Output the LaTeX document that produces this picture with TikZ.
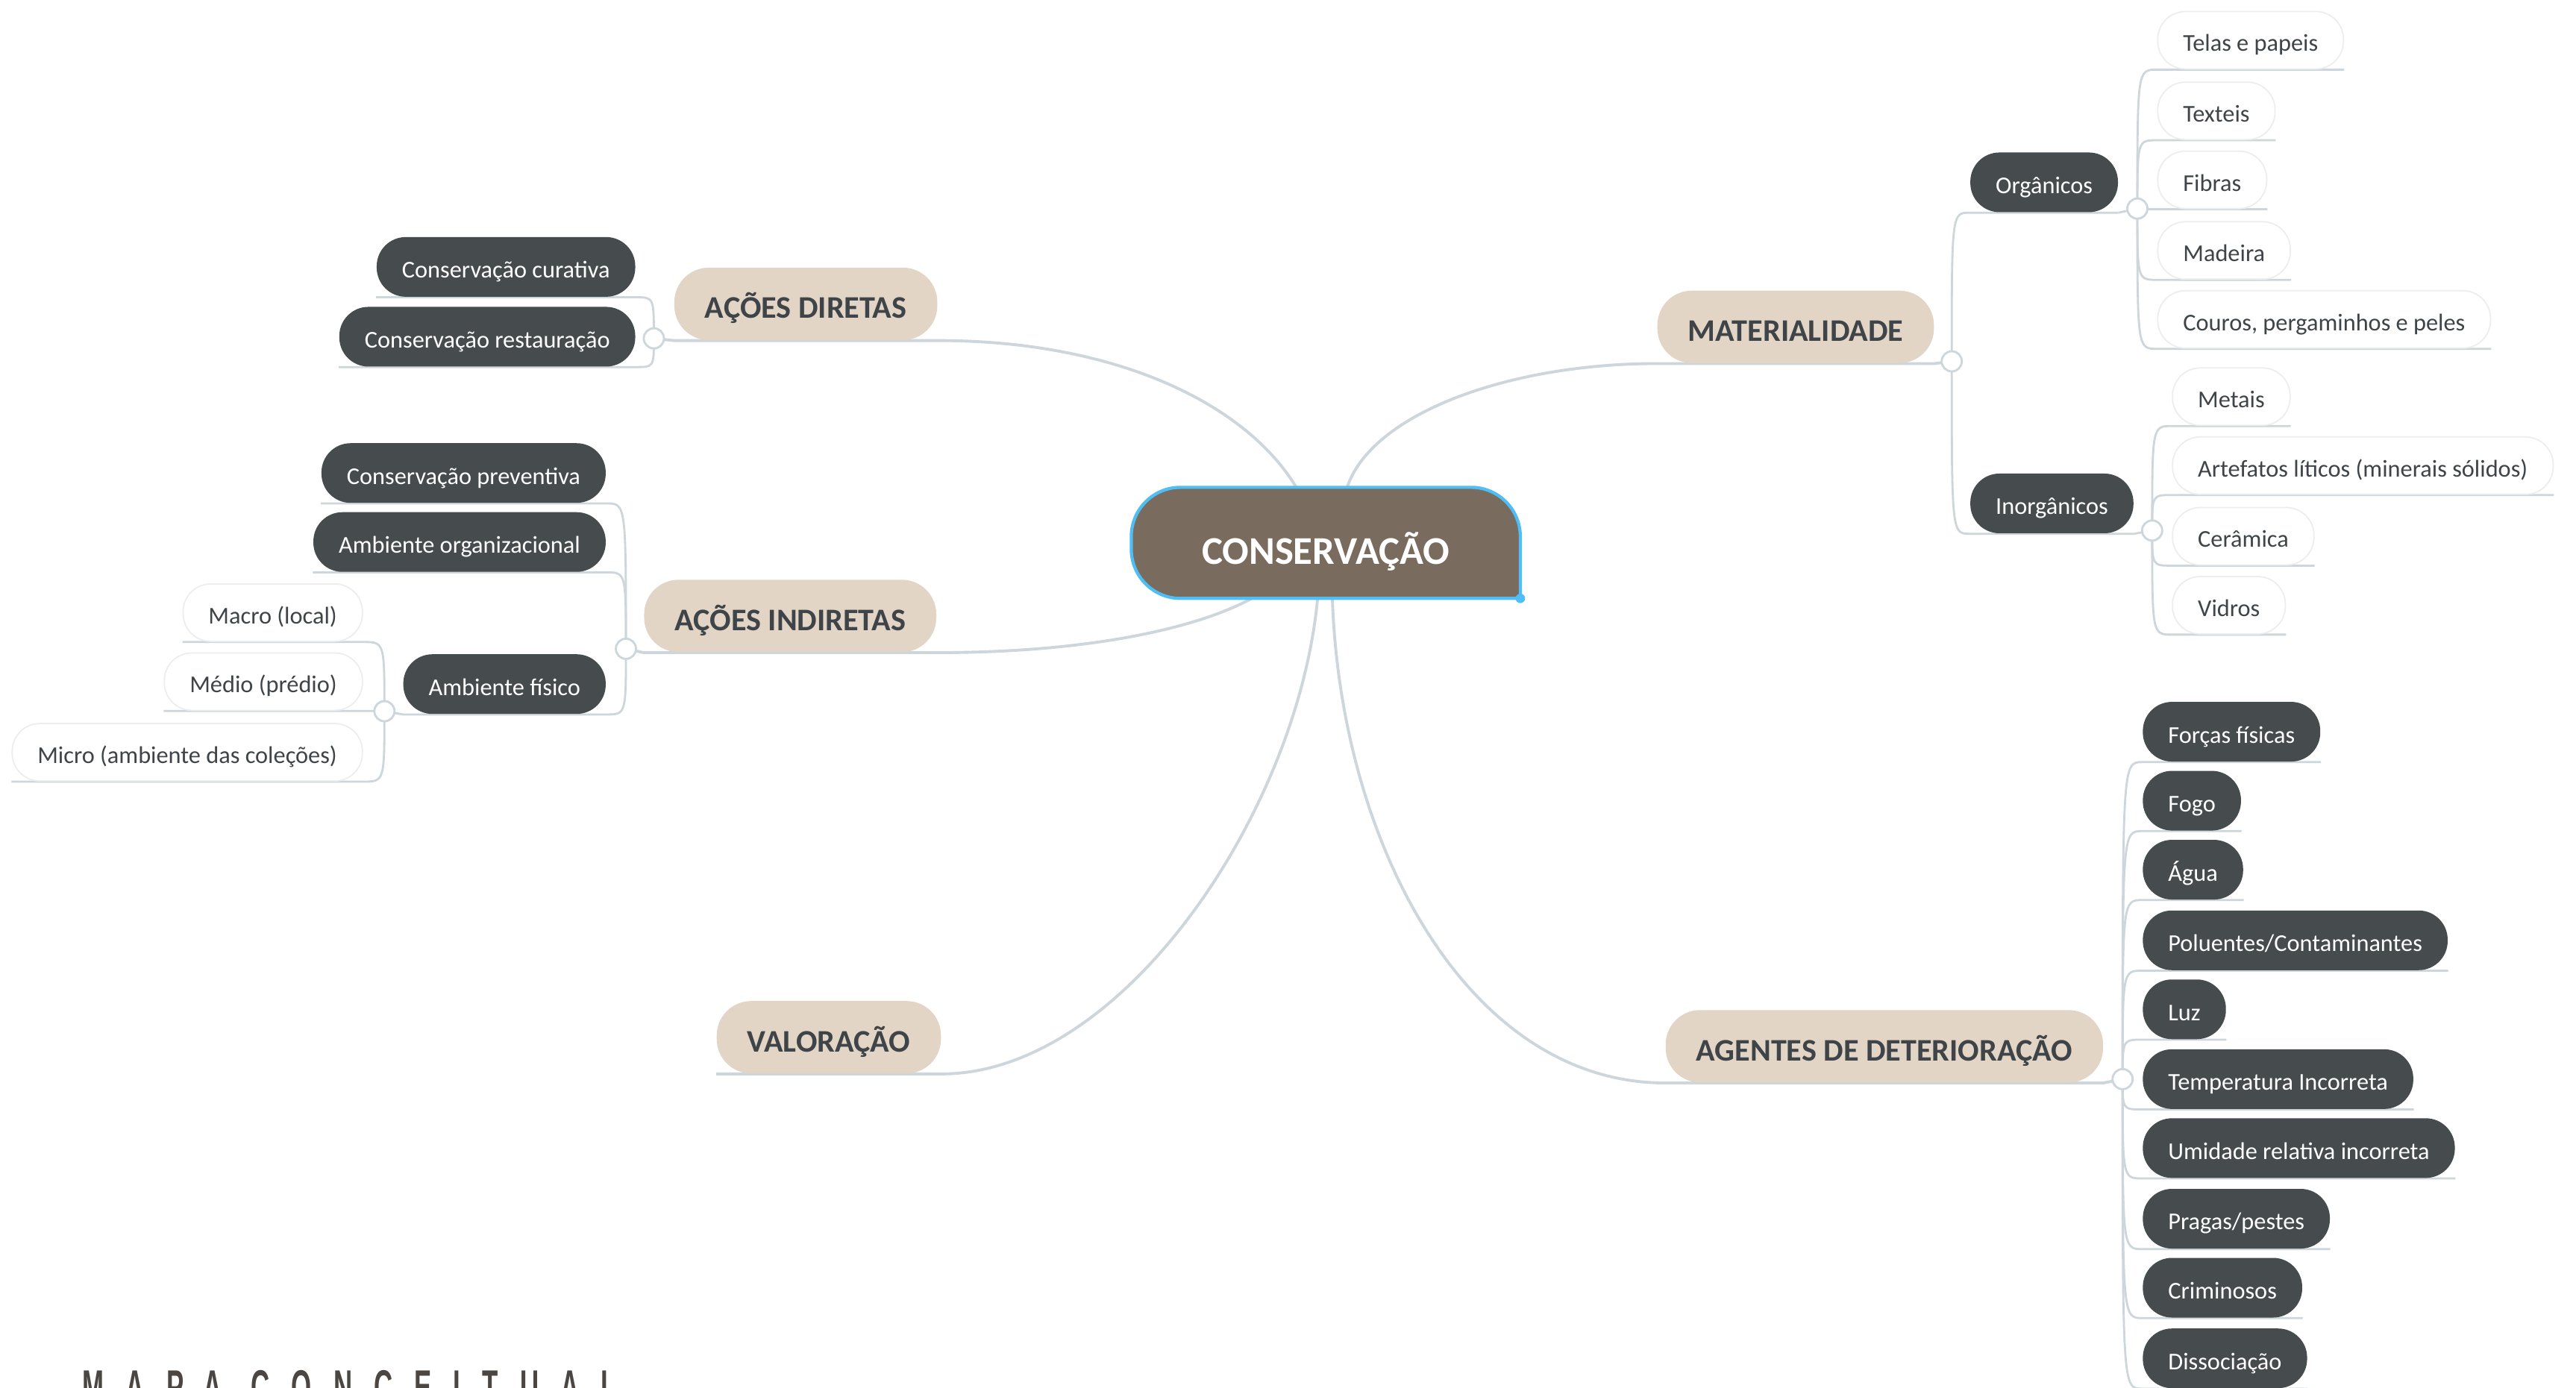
\documentclass[tikz,border=0pt]{standalone}
\usepackage{fontspec}
\setmainfont{Carlito}
\newfontfamily\mapafont{Liberation Sans}[LetterSpace=46,FakeStretch=0.55]
\usetikzlibrary{calc,backgrounds}
\definecolor{linegray}{HTML}{CDD6DA}
\definecolor{consbrown}{HTML}{796B5E}
\definecolor{selblue}{HTML}{4FBEF5}
\definecolor{topicbeige}{HTML}{E3D5C6}
\definecolor{subdark}{HTML}{464B4E}
\definecolor{textgray}{HTML}{3E4447}
\definecolor{leafborder}{HTML}{EDEDED}
\definecolor{mapagray}{HTML}{4B4641}
\newcommand\subfont{\fontsize{9.2}{11}\selectfont}
\newcommand\topicfont{\fontsize{12}{14}\selectfont\bfseries}
\newcommand\centralfont{\fontsize{15}{18}\selectfont\bfseries}
\def\twigR(#1)(#2){\draw[subline] (#1.center) .. controls (#1.center |- #2.south west) .. (#2.south west) -- (#2.south east);}
\def\twigL(#1)(#2){\draw[subline] (#1.center) .. controls (#1.center |- #2.south east) .. (#2.south east) -- (#2.south west);}
\tikzset{
  mainline/.style={draw=linegray, line width=1.1pt},
  subline/.style={draw=linegray, line width=0.8pt},
  central/.style={minimum width=5.2cm, minimum height=1.475cm, inner sep=0pt, text height=16.5pt, text depth=0pt, text=white, font=\centralfont},
  topic/.style={fill=topicbeige, rounded corners=0.46cm, minimum height=0.97cm, inner xsep=0.41cm, inner ysep=0pt, text height=12.4pt, text depth=1.3pt, text=textgray, font=\topicfont},
  subtopic/.style={fill=subdark, rounded corners=0.39cm, minimum height=0.8cm, inner xsep=0.34cm, inner ysep=0pt, text height=9.5pt, text depth=1pt, text=white, font=\subfont},
  leaf/.style={fill=white, draw=leafborder, line width=0.5pt, rounded corners=0.37cm, minimum height=0.77cm, inner xsep=0.34cm, inner ysep=0pt, text height=9.5pt, text depth=1pt, text=textgray, font=\subfont},
  junc/.style={circle, draw=linegray, fill=white, line width=0.8pt, minimum size=0.27cm, inner sep=0pt},
  mapa/.style={anchor=north west, inner sep=0pt, text=mapagray, font=\mapafont\bfseries\fontsize{18}{20}\selectfont}
}
\begin{document}
\begin{tikzpicture}[x=0.022022cm, y=-0.022022cm]
	%%%%% START %%%%%
	\useasboundingbox (0,0) rectangle (1568,845);
	
	\node[central] (cons) at (807,330.5) {CONSERVAÇÃO};
	
	\node[topic] (dir) at (490.5,185) {AÇÕES DIRETAS};
	\node[topic] (ind) at (481,375) {AÇÕES INDIRETAS};
	\node[topic] (val) at (504.5,631.5) {VALORAÇÃO};
	\node[topic] (mat) at (1093,199) {MATERIALIDADE};
	\node[topic] (age) at (1147,637) {AGENTES DE DETERIORAÇÃO};
	
	\node[junc] (jdir) at (398,206) {};
	\node[junc] (jind) at (381,395) {};
	\node[junc] (jfis) at (234,433) {};
	\node[junc] (jmat) at (1188,220) {};
	\node[junc] (jorg) at (1301,127) {};
	\node[junc] (jinor) at (1310,323) {};
	\node[junc] (jage) at (1292,657) {};
	
	% acoes diretas
	\node[subtopic, anchor=east] (cur) at (387,162.5) {Conservação curativa};
	\node[subtopic, anchor=east] (res) at (387,205) {Conservação restauração};
	
	% acoes indiretas
	\node[subtopic, anchor=east] (pre) at (369,288) {Conservação preventiva};
	\node[subtopic, anchor=east] (orz) at (369,330) {Ambiente organizacional};
	\node[subtopic, anchor=east] (fis) at (369,416.5) {Ambiente físico};
	\node[leaf, anchor=east] (mac) at (221,373) {Macro (local)};
	\node[leaf, anchor=east] (med) at (221,415) {Médio (prédio)};
	\node[leaf, anchor=east] (mic) at (221,458) {Micro (ambiente das coleções)};
	
	% materialidade
	\node[subtopic, anchor=west] (orgn) at (1199,111) {Orgânicos};
	\node[subtopic, anchor=west] (inor) at (1199,306.5) {Inorgânicos};
	\node[leaf, anchor=west] (tel) at (1313,24.5) {Telas e papeis};
	\node[leaf, anchor=west] (tex) at (1313,67.5) {Texteis};
	\node[leaf, anchor=west] (fib) at (1313,109.5) {Fibras};
	\node[leaf, anchor=west] (mad) at (1313,152.5) {Madeira};
	\node[leaf, anchor=west] (cou) at (1313,194.5) {Couros, pergaminhos e peles};
	\node[leaf, anchor=west] (met) at (1322,241.5) {Metais};
	\node[leaf, anchor=west] (art) at (1322,283.5) {Artefatos líticos (minerais sólidos)};
	\node[leaf, anchor=west] (cer) at (1322,326.5) {Cerâmica};
	\node[leaf, anchor=west] (vid) at (1322,368.5) {Vidros};
	
	% agentes de deterioracao
	\node[subtopic, anchor=west] (for) at (1304,445.5) {Forças físicas};
	\node[subtopic, anchor=west] (fog) at (1304,487.5) {Fogo};
	\node[subtopic, anchor=west] (agu) at (1304,529.5) {Água};
	\node[subtopic, anchor=west] (pol) at (1304,572.5) {Poluentes/Contaminantes};
	\node[subtopic, anchor=west] (luz) at (1304,614.5) {Luz};
	\node[subtopic, anchor=west] (tem) at (1304,657) {Temperatura Incorreta};
	\node[subtopic, anchor=west] (umi) at (1304,699) {Umidade relativa incorreta};
	\node[subtopic, anchor=west] (pra) at (1304,742) {Pragas/pestes};
	\node[subtopic, anchor=west] (cri) at (1304,784) {Criminosos};
	\node[subtopic, anchor=west] (dis) at (1304,827) {Dissociação};
	
	\node[mapa] (mapa) at (50,834) {MAPA CONCEITUAL};
	
	\begin{pgfonlayer}{background}
		\fill[white] (0,0) rectangle (1568,845);
		
		\draw[mainline] (jdir.center) -- (dir.south west) -- (dir.south east) .. controls +(110,0) and +(-30,-50) .. ($(cons.north)+(-18,0)$);
		\draw[mainline] (jind.center) -- (ind.south west) -- (ind.south east) .. controls +(90,0) and +(-35,19) .. ($(cons.south)+(-45,0)$);
		\draw[mainline] (val.south west) -- (val.south east) .. controls +(110,0) and +(-12,130) .. ($(cons.south)+(-5,0)$);
		\draw[mainline] (jmat.center) -- (mat.south east) -- (mat.south west) .. controls +(-90,0) and +(15,-45) .. ($(cons.north)+(13,0)$);
		\draw[mainline] (jage.center) -- (age.south east) -- (age.south west) .. controls +(-120,0) and +(5,150) .. ($(cons.south)+(4,0)$);
		
		\twigL(jdir)(cur)
		\twigL(jdir)(res)
		\twigL(jind)(pre)
		\twigL(jind)(orz)
		\twigL(jind)(fis)
		\draw[subline] (fis.south west) -- (jfis.center);
		\twigL(jfis)(mac)
		\twigL(jfis)(med)
		\twigL(jfis)(mic)
		
		\twigR(jmat)(orgn)
		\twigR(jmat)(inor)
		\draw[subline] (orgn.south east) -- (jorg.center);
		\draw[subline] (inor.south east) -- (jinor.center);
		\twigR(jorg)(tel)
		\twigR(jorg)(tex)
		\twigR(jorg)(fib)
		\twigR(jorg)(mad)
		\twigR(jorg)(cou)
		\twigR(jinor)(met)
		\twigR(jinor)(art)
		\twigR(jinor)(cer)
		\twigR(jinor)(vid)
		
		\twigR(jage)(for)
		\twigR(jage)(fog)
		\twigR(jage)(agu)
		\twigR(jage)(pol)
		\twigR(jage)(luz)
		\twigR(jage)(tem)
		\twigR(jage)(umi)
		\twigR(jage)(pra)
		\twigR(jage)(cri)
		\twigR(jage)(dis)
		
		\draw[selblue, fill=consbrown, line width=1.2pt, rounded corners=0.66cm] (cons.south east) -- (cons.south west) -- (cons.north west) -- (cons.north east) -- (cons.south east);
		\fill[selblue] (cons.south east) circle (1.8pt);
	\end{pgfonlayer}
	
	%%%%% END %%%%%
\end{tikzpicture}
\end{document}
